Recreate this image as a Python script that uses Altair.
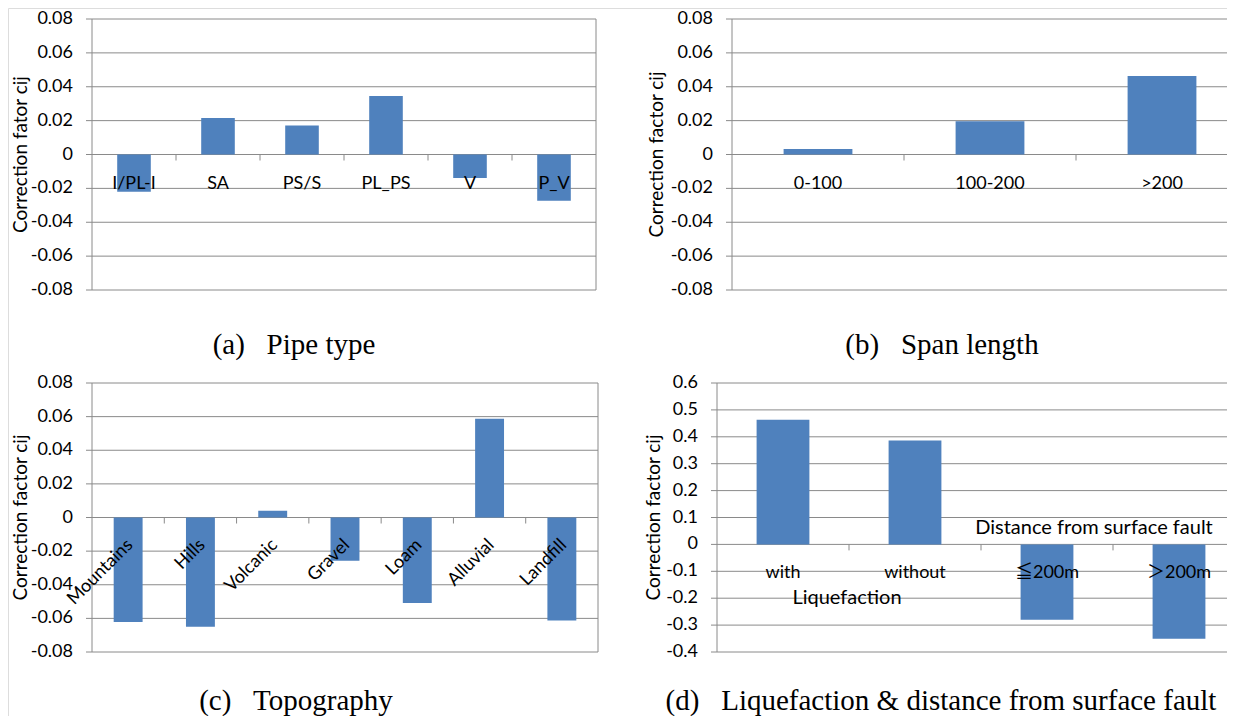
import altair as alt
import pandas as pd

# ---------------- data ----------------
pipe_types = ["I/PL-I", "SA", "PS/S", "PL_PS", "V", "P_V"]
pipe_vals = [-0.0220, 0.0215, 0.0171, 0.0345, -0.0139, -0.0273]

span_cats = ["0-100", "100-200", ">200"]
span_vals = [0.0033, 0.0196, 0.0463]

topo_cats = ["Mountains", "Hills", "Volcanic", "Gravel", "Loam", "Alluvial", "Landfill"]
topo_vals = [-0.0622, -0.0650, 0.0040, -0.0257, -0.0508, 0.0587, -0.0613]

liq_cats = ["with", "without", "\u2266200m", "\uff1e200m"]
liq_vals = [0.463, 0.386, -0.280, -0.351]
liq_groups = ["Liquefaction", "Distance from surface fault"]

ticks_small = [0.08, 0.06, 0.04, 0.02, 0.0, -0.02, -0.04, -0.06, -0.08]
labels_small = ["0.08", "0.06", "0.04", "0.02", "0", "-0.02", "-0.04", "-0.06", "-0.08"]
ticks_large = [0.6, 0.5, 0.4, 0.3, 0.2, 0.1, 0.0, -0.1, -0.2, -0.3, -0.4]
labels_large = ["0.6", "0.5", "0.4", "0.3", "0.2", "0.1", "0", "-0.1", "-0.2", "-0.3", "-0.4"]

captions = ["(a)\u00a0\u00a0\u00a0Pipe type", "(b)\u00a0\u00a0\u00a0Span length",
            "(c)\u00a0\u00a0\u00a0Topography",
            "(d)\u00a0\u00a0\u00a0Liquefaction & distance from surface fault"]
ytitles = ["Correction fator cij", "Correction factor cij", "Correction factor cij",
           "Correction factor cij"]

# ---------------- style ----------------
BAR = "#4F81BD"
GRID = "#8A8A8A"
LFONT = "Lato, Noto Sans CJK JP"
SFONT = "Liberation Serif"
FS = 18
CW, CH = 1219, 708


def panel(cats, vals, ticks, labels, x0, span, grid_end, top, bottom, ytitle, title_x,
          caption, cap_x, cap_y, angled=False, border=False, groups=None, group_pos=None):
    ymin, ymax = min(ticks), max(ticks)
    xsc = alt.Scale(domain=cats, range=[x0, x0 + span], paddingInner=0, paddingOuter=0)
    ysc = alt.Scale(domain=[ymin, ymax], range=[bottom, top], nice=False, zero=False)
    df = pd.DataFrame({"cat": cats, "val": vals})
    tdf = pd.DataFrame({"v": ticks, "lab": labels})
    layers = []

    # horizontal gridlines
    layers.append(alt.Chart(tdf).mark_rule(color=GRID, strokeWidth=1).encode(
        x=alt.value(x0), x2=alt.value(grid_end),
        y=alt.Y("v:Q", scale=ysc, axis=None)))
    # y tick marks
    layers.append(alt.Chart(tdf).mark_rule(color=GRID, strokeWidth=1).encode(
        x=alt.value(x0 - 6), x2=alt.value(x0),
        y=alt.Y("v:Q", scale=ysc, axis=None)))
    # y axis line
    layers.append(alt.Chart(pd.DataFrame({"a": [0]})).mark_rule(color=GRID, strokeWidth=1).encode(
        x=alt.value(x0), y=alt.Y(datum=ymin, scale=ysc, axis=None), y2=alt.Y2(datum=ymax)))
    if border:
        layers.append(alt.Chart(pd.DataFrame({"a": [0]})).mark_rule(color=GRID, strokeWidth=1).encode(
            x=alt.value(x0 + span), y=alt.Y(datum=ymin, scale=ysc, axis=None), y2=alt.Y2(datum=ymax)))
    # category boundary ticks below the zero line
    layers.append(alt.Chart(pd.DataFrame({"cat": cats[1:]})).mark_rule(
        color=GRID, strokeWidth=1, y2Offset=6).encode(
        x=alt.X("cat:N", scale=xsc, axis=None, bandPosition=0),
        y=alt.Y(datum=0, scale=ysc, axis=None), y2=alt.Y2(datum=0)))
    # bars
    layers.append(alt.Chart(df).mark_bar(color=BAR, width=alt.RelativeBandSize(0.4)).encode(
        x=alt.X("cat:N", scale=xsc, axis=None),
        y=alt.Y("val:Q", scale=ysc, axis=None), y2=alt.Y2(datum=0)))
    # y tick labels
    layers.append(alt.Chart(tdf).mark_text(
        font=LFONT, fontSize=FS, align="right", baseline="middle", color="black").encode(
        x=alt.value(x0 - 19), y=alt.Y("v:Q", scale=ysc, axis=None), text="lab:N"))
    # category labels
    if angled:
        cat_mark = alt.Chart(df).mark_text(font=LFONT, fontSize=FS, align="right",
                                           baseline="middle", angle=315, color="black",
                                           xOffset=2, yOffset=25)
    else:
        cat_mark = alt.Chart(df).mark_text(font=LFONT, fontSize=FS, align="center",
                                           baseline="alphabetic", color="black", yOffset=34)
    layers.append(cat_mark.encode(
        x=alt.X("cat:N", scale=xsc, axis=None),
        y=alt.Y(datum=0, scale=ysc, axis=None), text="cat:N"))
    # y axis title
    layers.append(alt.Chart(pd.DataFrame({"t": [ytitle]})).mark_text(
        font=LFONT, fontSize=19, align="center", baseline="alphabetic", angle=270,
        color="black").encode(
        x=alt.value(title_x), y=alt.value((top + bottom) / 2), text="t:N"))
    # caption
    layers.append(alt.Chart(pd.DataFrame({"t": [caption]})).mark_text(
        font=SFONT, fontSize=29, align="center", baseline="alphabetic", color="black").encode(
        x=alt.value(cap_x), y=alt.value(cap_y), text="t:N"))
    # group labels
    if groups:
        for g, (gx, gy) in zip(groups, group_pos):
            layers.append(alt.Chart(pd.DataFrame({"t": [g]})).mark_text(
                font=LFONT, fontSize=20, align="center", baseline="alphabetic",
                color="black").encode(x=alt.value(gx), y=alt.value(gy), text="t:N"))
    return layers


layers = []
layers += panel(pipe_types, pipe_vals, ticks_small, labels_small, 84, 504, 588, 11, 282,
                ytitles[0], 19, captions[0], 286, 346, border=True)
layers += panel(span_cats, span_vals, ticks_small, labels_small, 724, 516, CW, 11, 282,
                ytitles[1], 655, captions[1], 934, 346)
layers += panel(topo_cats, topo_vals, ticks_small, labels_small, 84, 506, 590, 375, 644,
                ytitles[2], 19, captions[2], 288, 702, angled=True, border=True)
layers += panel(liq_cats, liq_vals, ticks_large, labels_large, 709, 528, CW, 375, 644,
                ytitles[3], 652, captions[3], 933, 702,
                groups=liq_groups, group_pos=[(839, 596), (1086, 526)])

chart = alt.layer(*layers).resolve_scale(x="independent", y="independent").properties(
    width=CW, height=CH, autosize=alt.AutoSizeParams(type="none"), padding=0
).configure_view(stroke="transparent", strokeWidth=0).configure(background="white")

chart.save("out.html", embed_options={"renderer": "svg", "actions": False})
